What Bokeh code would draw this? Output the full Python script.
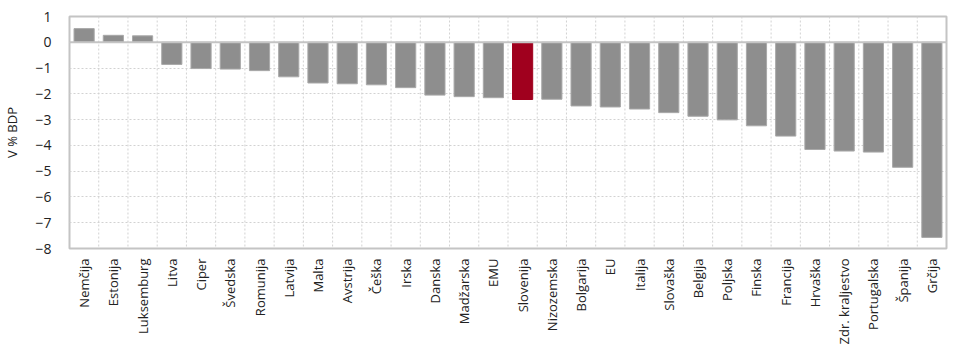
import math
from bokeh.plotting import figure
from bokeh.models import FactorRange, Range1d, Span, FixedTicker
from bokeh.embed import file_html
from bokeh.resources import INLINE

countries = ["Nemčija", "Estonija", "Luksemburg", "Litva", "Ciper", "Švedska", "Romunija",
             "Latvija", "Malta", "Avstrija", "Češka", "Irska", "Danska", "Madžarska", "EMU",
             "Slovenija", "Nizozemska", "Bolgarija", "EU", "Italija", "Slovaška", "Belgija",
             "Poljska", "Finska", "Francija", "Hrvaška", "Zdr. kraljestvo", "Portugalska",
             "Španija", "Grčija"]
values = [0.53, 0.27, 0.25, -0.86, -1.02, -1.04, -1.10, -1.34, -1.58, -1.61, -1.65, -1.76,
          -2.05, -2.11, -2.15, -2.22, -2.21, -2.47, -2.51, -2.59, -2.73, -2.87, -3.01, -3.24,
          -3.64, -4.16, -4.22, -4.26, -4.85, -7.57]
y_ticks = [1, 0, -1, -2, -3, -4, -5, -6, -7, -8]
highlight = "Slovenija"

colors = ["#a0001e" if c == highlight else "#8e8e8e" for c in countries]
lines = ["#a0001e" if c == highlight else "#a9a9a9" for c in countries]

FONT = "Open Sans"

p = figure(width=960, height=347, x_range=FactorRange(*countries, range_padding=0),
           y_range=Range1d(min(y_ticks), max(y_ticks)),
           output_backend="svg", toolbar_location=None,
           min_border_left=57, min_border_right=14, min_border_top=16, min_border_bottom=98)

p.vbar(x=countries, top=values, bottom=0, width=0.69, fill_color=colors, line_color=lines,
       line_width=1)

p.background_fill_color = "white"
p.border_fill_color = "white"
p.outline_line_color = "#c4c4c4"
p.outline_line_width = 2

# grids
p.xgrid.visible = False
p.ygrid.ticker = FixedTicker(ticks=y_ticks)
p.ygrid.grid_line_color = "#d2d2d2"
p.ygrid.grid_line_dash = "2 2"
p.ygrid.grid_line_width = 1
for i in range(1, len(countries)):
    p.add_layout(Span(location=i, dimension="height", line_color="#d2d2d2",
                      line_dash="2 2", line_width=1))
p.add_layout(Span(location=0, dimension="width", line_color="#c4c4c4", line_width=2))

# y axis
p.yaxis.ticker = FixedTicker(ticks=y_ticks)
p.yaxis.axis_line_color = None
p.yaxis.major_tick_line_color = None
p.yaxis.minor_tick_line_color = None
p.yaxis.major_label_text_font = FONT
p.yaxis.major_label_text_font_size = "14px"
p.yaxis.major_label_text_color = "#222222"
p.yaxis.major_label_standoff = 12
p.yaxis.axis_label = "V % BDP"
p.yaxis.axis_label_text_font = FONT
p.yaxis.axis_label_text_font_size = "13px"
p.yaxis.axis_label_text_font_style = "normal"
p.yaxis.axis_label_text_color = "#222222"
p.yaxis.axis_label_standoff = 11

# x axis
p.xaxis.axis_line_color = None
p.xaxis.major_tick_line_color = None
p.xaxis.minor_tick_line_color = None
p.xaxis.major_label_orientation = math.pi / 2
p.xaxis.major_label_text_font = FONT
p.xaxis.major_label_text_font_size = "13px"
p.xaxis.major_label_text_color = "#222222"
p.xaxis.major_label_standoff = 4

open("out.html", "w").write(file_html(p, INLINE))
